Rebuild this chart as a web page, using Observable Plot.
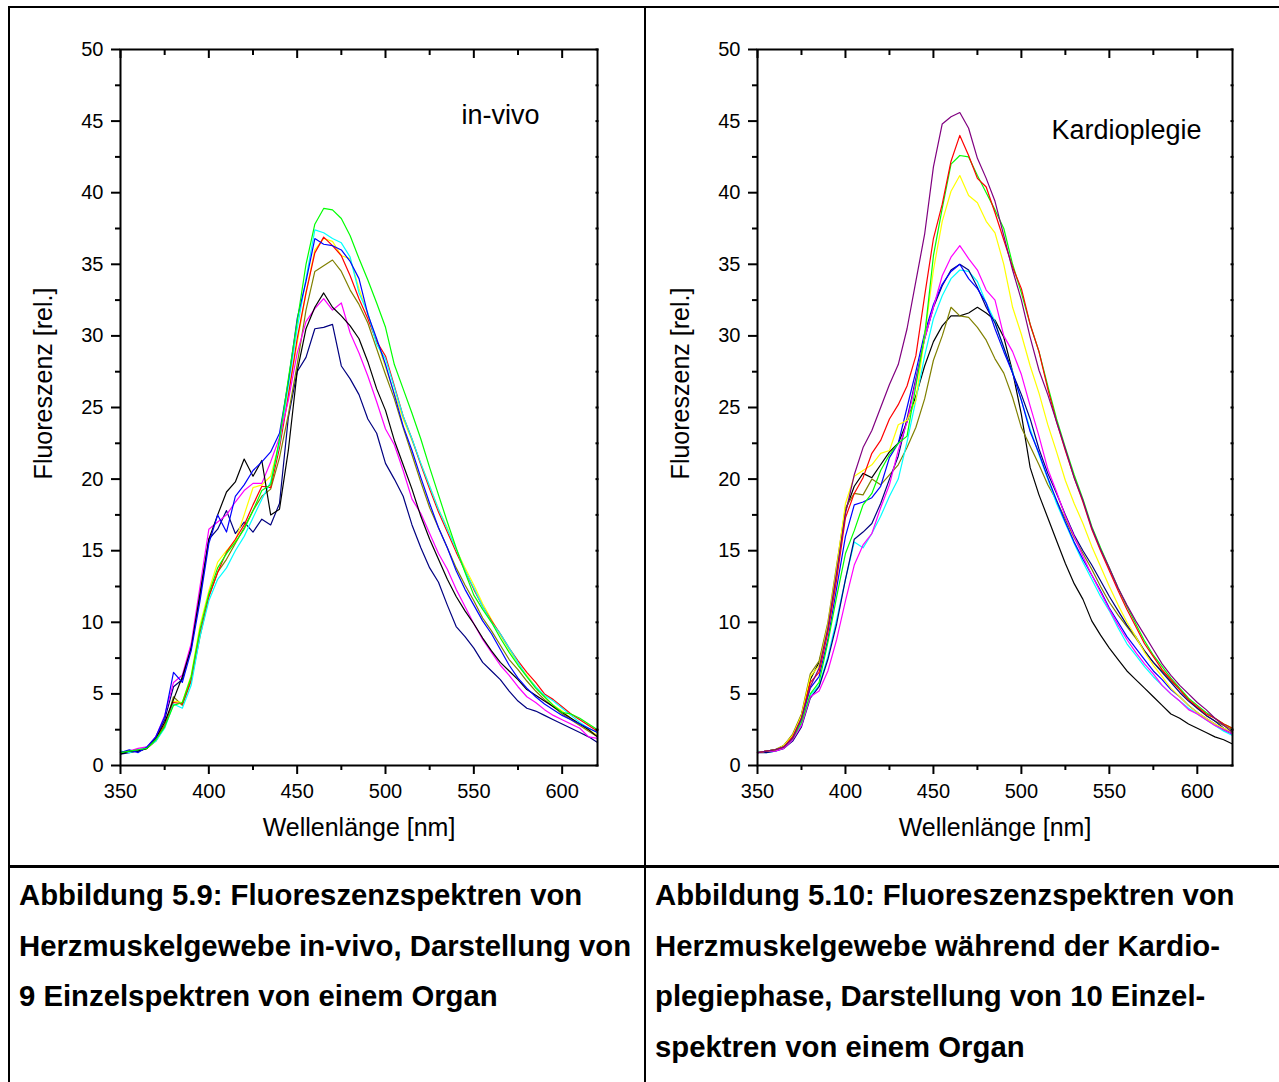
<!DOCTYPE html>
<html>
<head>
<meta charset="utf-8">
<script src="https://cdn.jsdelivr.net/npm/d3@7"></script>
<script src="https://cdn.jsdelivr.net/npm/@observablehq/plot@0.6"></script>
<style>
  html, body { margin: 0; padding: 0; background: #fff; }
  body { width: 1279px; height: 1082px; overflow: hidden; position: relative;
         font-family: "Liberation Sans", Arial, Helvetica, sans-serif; color: #000; }
  .rule { position: absolute; background: #000; }
  .plot { position: absolute; top: 20px; }
  .cap { position: absolute; top: 870px; font-weight: bold; font-size: 29.3px;
         line-height: 50.5px; white-space: nowrap; }
</style>
</head>
<body>
<div class="rule" style="left:8px; top:6px; width:1271px; height:2px;"></div>
<div class="rule" style="left:8px; top:6px; width:2px; height:1076px;"></div>
<div class="rule" style="left:644px; top:6px; width:2px; height:1076px;"></div>
<div class="rule" style="left:8px; top:865px; width:1271px; height:3px;"></div>
<div id="left" class="plot" style="left:20px;"></div>
<div id="right" class="plot" style="left:657px;"></div>
<div class="cap" style="left:19px;">Abbildung 5.9: Fluoreszenzspektren von<br>Herzmuskelgewebe in-vivo, Darstellung von<br>9 Einzelspektren von einem Organ</div>
<div class="cap" style="left:655px;">Abbildung 5.10: Fluoreszenzspektren von<br>Herzmuskelgewebe während der Kardio-<br>plegiephase, Darstellung von 10 Einzel-<br>spektren von einem Organ</div>
<script>
// ---------- data ----------
const wavelengths = [350,355,360,365,370,375,380,385,390,395,
  400,405,410,415,420,425,430,435,440,445,
  450,455,460,465,470,475,480,485,490,495,
  500,505,510,515,520,525,530,535,540,545,
  550,555,560,565,570,575,580,585,590,595,
  600,605,610,615,620];

const xMajorTicks = [350,400,450,500,550,600];
const xMinorTicks = [375,425,475,525,575];
const yMajorTicks = [0,5,10,15,20,25,30,35,40,45,50];
const yMinorTicks = [2.5,7.5,12.5,17.5,22.5,27.5,32.5,37.5,42.5,47.5];

// in-vivo spectra (Abbildung 5.9)
const vivoBlack = [0.8,1.0,1.0,1.2,1.9,3.0,4.6,6.2,8.2,12.0,
  15.8,17.5,19.1,19.8,21.4,20.2,21.3,17.5,17.9,22.0,
  27.5,30.5,32.0,33.0,32.0,31.4,30.7,29.8,28.2,26.3,
  24.8,22.7,21.0,19.3,17.4,15.8,14.4,13.0,11.8,10.8,
  9.9,8.9,8.0,7.2,6.6,6.0,5.3,4.9,4.5,4.1,
  3.7,3.3,2.9,2.5,2.0];
const vivoBlue = [0.9,1.1,0.9,1.3,2.0,3.4,6.5,5.8,8.0,11.5,
  15.5,17.5,16.3,18.8,19.6,20.6,21.2,21.9,23.2,26.8,
  31.2,33.8,36.8,36.4,36.3,36.0,35.2,34.0,31.5,29.8,
  28.0,25.9,23.7,22.0,20.1,18.3,16.6,15.2,13.6,12.3,
  11.2,10.1,9.2,8.1,7.0,6.1,5.4,4.8,4.3,3.9,
  3.5,3.2,2.9,2.6,2.3];
const vivoMagenta = [0.9,1.0,1.2,1.3,2.0,3.5,5.8,6.3,8.5,12.5,
  16.5,17.0,17.5,18.4,19.2,19.7,19.7,21.2,22.9,25.5,
  28.8,31.0,31.9,32.6,31.8,32.3,30.2,28.8,27.2,25.4,
  23.5,22.4,20.6,18.6,17.6,16.2,14.8,13.7,12.3,11.1,
  9.9,8.8,7.9,7.0,6.3,5.5,4.8,4.4,3.9,3.5,
  3.2,2.9,2.6,2.0,1.9];
const vivoNavy = [0.8,0.9,1.0,1.2,2.0,3.2,5.5,6.0,8.3,11.8,
  15.8,16.5,17.8,16.2,17.0,16.3,17.2,16.8,18.3,24.3,
  27.5,28.5,30.5,30.6,30.8,27.9,27.0,25.9,24.2,23.2,
  21.1,20.0,18.8,16.8,15.2,13.8,12.8,11.2,9.7,9.0,
  8.2,7.2,6.6,6.0,5.2,4.5,4.0,3.8,3.5,3.2,
  2.9,2.6,2.3,2.0,1.6];
const vivoGreen = [0.9,1.0,1.1,1.2,1.8,2.7,4.2,4.4,6.2,9.5,
  12.0,13.8,14.8,15.6,16.5,17.8,19.2,19.6,22.8,27.0,
  31.0,35.0,37.8,38.9,38.8,38.2,37.0,35.4,33.9,32.3,
  30.6,28.0,26.3,24.6,22.8,20.8,18.9,17.0,15.2,13.5,
  11.9,10.9,10.0,8.9,7.9,7.0,6.2,5.4,4.8,4.2,
  3.7,3.6,3.3,2.9,2.5];
const vivoCyan = [1.0,0.9,1.1,1.3,1.7,2.6,4.3,4.0,5.6,9.0,
  11.5,13.0,13.8,15.0,16.0,17.3,18.6,19.8,22.5,26.5,
  30.5,34.0,37.4,37.2,36.8,36.5,35.5,33.0,31.6,29.4,
  28.4,26.4,24.4,22.8,21.1,19.5,17.9,16.5,15.1,13.6,
  12.4,11.1,10.0,9.2,8.2,7.2,6.2,5.5,4.9,4.5,
  4.0,3.5,3.0,2.6,2.3];
const vivoRed = [0.9,1.0,1.1,1.2,1.8,2.8,4.4,4.3,6.0,9.3,
  11.8,13.5,14.9,15.8,16.8,18.2,19.5,19.4,22.2,25.8,
  29.8,33.0,35.8,36.9,36.3,35.6,34.2,32.6,31.2,29.6,
  28.6,26.5,24.4,22.8,21.0,19.3,17.7,16.3,14.9,13.6,
  12.3,11.1,10.1,9.2,8.2,7.3,6.5,5.8,5.0,4.6,
  4.1,3.6,3.2,2.8,2.4];
const vivoYellow = [0.9,1.0,1.1,1.2,1.8,2.9,4.5,4.4,6.3,9.8,
  12.2,14.2,15.0,15.7,17.5,19.4,19.6,20.2,22.6,26.0,
  29.5,33.0,36.0,36.8,36.6,35.6,35.4,33.3,31.5,29.7,
  27.8,26.0,24.2,22.7,21.1,19.5,17.9,16.6,15.1,13.8,
  12.6,11.3,10.2,9.1,8.1,7.1,6.3,5.5,4.8,4.2,
  3.8,3.3,2.9,2.5,2.1];
const vivoOlive = [0.9,1.0,1.1,1.2,1.7,2.7,4.8,4.2,5.9,9.0,
  11.8,13.5,14.4,15.5,16.6,17.8,18.8,19.3,21.5,24.5,
  28.0,31.8,34.5,34.9,35.3,34.5,33.2,32.2,30.9,29.1,
  27.3,25.6,23.6,21.7,19.8,18.0,16.6,15.2,13.8,12.6,
  11.5,10.3,9.4,8.4,7.4,6.7,5.9,5.2,4.6,4.1,
  3.6,3.2,2.8,2.4,2.0];

// Kardioplegie spectra (Abbildung 5.10)
const kardioBlack = [0.9,1.0,1.1,1.4,2.1,3.5,6.0,7.2,9.6,13.6,
  17.8,19.5,20.4,20.1,21.0,21.9,22.5,24.0,25.8,27.9,
  29.6,30.7,31.4,31.4,31.6,32.0,31.6,31.1,29.9,27.5,
  24.5,20.8,18.9,17.3,15.7,14.1,12.7,11.6,10.1,9.1,
  8.2,7.4,6.6,6.0,5.4,4.8,4.2,3.6,3.3,2.9,
  2.6,2.3,2.0,1.8,1.5];
const kardioRed = [0.9,1.0,1.1,1.3,2.0,3.3,5.8,6.5,9.3,13.0,
  17.3,19.0,20.1,21.8,22.7,24.2,25.2,26.5,28.6,32.8,
  36.8,39.2,42.2,44.0,42.6,41.0,40.4,38.6,36.7,34.8,
  33.3,30.8,28.9,26.3,24.0,22.0,20.1,18.4,16.5,15.0,
  13.6,12.2,10.9,9.7,8.5,7.6,6.7,6.0,5.3,4.6,
  4.1,3.6,3.3,2.9,2.6];
const kardioGreen = [0.9,1.0,1.1,1.3,1.9,3.0,5.0,5.8,8.6,11.8,
  14.8,16.4,18.2,19.0,20.6,21.7,22.5,23.0,26.5,30.0,
  35.6,38.9,42.0,42.6,42.5,41.2,40.0,38.8,37.5,35.0,
  33.0,30.8,28.9,26.5,24.2,22.2,20.3,18.6,16.7,15.2,
  13.8,12.4,11.1,9.9,8.7,7.7,6.9,6.1,5.4,4.7,
  4.2,3.7,3.3,2.9,2.6];
const kardioBlue = [0.9,1.0,1.1,1.3,2.0,3.2,5.4,6.2,8.8,12.4,
  16.0,18.2,18.4,18.7,19.5,21.5,22.5,25.0,27.5,30.2,
  32.2,33.6,34.5,35.0,34.0,33.3,32.3,30.5,28.9,27.4,
  25.5,23.3,21.8,20.1,18.5,17.0,15.6,14.4,13.3,12.2,
  11.0,10.0,9.0,8.2,7.4,6.6,6.0,5.3,4.8,4.2,
  3.7,3.3,2.9,2.5,2.2];
const kardioCyan = [1.0,0.9,1.0,1.2,1.8,2.9,4.9,5.6,7.6,10.2,
  13.0,15.6,15.2,16.2,17.4,18.8,20.0,22.6,25.5,28.6,
  31.2,32.8,34.0,34.6,34.5,33.8,32.3,31.0,29.1,27.5,
  25.5,23.5,21.7,20.0,18.3,16.9,15.5,14.2,13.0,11.8,
  10.8,9.6,8.5,7.7,6.9,6.2,5.6,5.0,4.5,4.0,
  3.6,3.2,2.8,2.4,2.1];
const kardioMagenta = [0.9,1.0,1.0,1.2,1.8,2.8,4.8,5.2,6.6,8.8,
  11.5,14.0,15.4,16.2,18.0,19.6,22.0,24.0,26.8,29.8,
  32.0,34.2,35.5,36.3,35.4,34.6,33.2,32.5,30.0,28.9,
  27.3,25.1,23.0,20.7,19.1,17.4,16.0,14.6,13.3,12.1,
  10.9,9.8,8.8,7.9,7.1,6.4,5.6,5.0,4.5,3.9,
  3.6,3.2,2.8,2.5,2.2];
const kardioNavy = [0.9,0.9,1.0,1.2,1.7,2.7,4.7,5.5,7.4,9.9,
  13.0,15.8,16.3,16.9,18.3,20.0,21.6,24.2,27.0,29.8,
  32.0,33.5,34.6,35.0,34.6,33.4,32.0,30.9,29.2,27.4,
  25.9,24.2,22.1,20.4,19.0,17.5,16.1,15.0,14.0,12.9,
  11.8,10.8,9.8,9.0,8.0,7.2,6.5,5.8,5.1,4.5,
  4.0,3.5,3.1,2.6,2.2];
const kardioYellow = [0.9,1.0,1.1,1.4,2.1,3.5,6.2,7.0,9.8,13.8,
  18.3,20.2,20.6,21.0,21.8,22.0,23.8,24.1,25.5,30.0,
  34.6,38.0,40.1,41.2,39.8,39.3,38.0,37.2,35.0,32.0,
  30.1,27.9,26.0,23.8,21.9,19.9,18.3,16.9,15.3,13.9,
  12.5,11.2,10.0,9.0,7.9,7.0,6.2,5.4,4.8,4.2,
  3.7,3.3,2.9,2.6,2.3];
const kardioOlive = [0.9,1.0,1.1,1.4,2.2,3.6,6.4,7.3,10.0,14.0,
  18.0,19.0,18.9,20.0,19.6,20.3,21.0,22.2,23.6,25.6,
  28.3,30.0,32.0,31.4,31.3,30.6,29.7,28.4,27.4,25.7,
  23.6,22.3,21.0,19.6,18.5,17.2,15.9,14.8,13.7,12.5,
  11.4,10.5,9.7,8.9,8.0,7.2,6.6,5.9,5.3,4.6,
  4.0,3.5,3.1,2.8,2.5];
const kardioPurple = [0.9,1.0,1.1,1.3,1.9,3.3,5.5,6.8,9.6,13.5,
  17.6,20.3,22.2,23.4,25.0,26.6,28.0,30.5,33.8,37.1,
  41.8,44.8,45.3,45.6,44.5,42.4,41.0,39.4,37.0,34.6,
  32.5,29.9,27.6,25.9,24.0,22.1,20.1,18.5,16.6,15.1,
  13.8,12.4,11.2,10.1,9.1,8.1,7.1,6.3,5.6,5.0,
  4.4,3.9,3.3,2.8,2.3];

const vivoSeries = [
  {color: "#000080", values: vivoNavy},
  {color: "#808000", values: vivoOlive},
  {color: "#FFFF00", values: vivoYellow},
  {color: "#FF0000", values: vivoRed},
  {color: "#00FFFF", values: vivoCyan},
  {color: "#FF00FF", values: vivoMagenta},
  {color: "#000000", values: vivoBlack},
  {color: "#0000FF", values: vivoBlue},
  {color: "#00FF00", values: vivoGreen}
];
const kardioSeries = [
  {color: "#000000", values: kardioBlack},
  {color: "#808000", values: kardioOlive},
  {color: "#00FFFF", values: kardioCyan},
  {color: "#000080", values: kardioNavy},
  {color: "#0000FF", values: kardioBlue},
  {color: "#FF00FF", values: kardioMagenta},
  {color: "#FFFF00", values: kardioYellow},
  {color: "#00FF00", values: kardioGreen},
  {color: "#FF0000", values: kardioRed},
  {color: "#800080", values: kardioPurple}
];

// ---------- drawing ----------
const FONT = '"Liberation Sans", Arial, Helvetica, sans-serif';

function panel(series, tag, tagDx, tagDy, marginRight) {
  const W = 600, H = 840, mL = 100, mT = 29, mB = 95;
  const fw = W - mL - marginRight;   // frame width
  const fh = H - mT - mB;            // frame height
  return Plot.plot({
    width: W, height: H,
    marginLeft: mL, marginRight: marginRight, marginTop: mT, marginBottom: mB,
    x: {domain: [350, 620]},
    y: {domain: [0, 50]},
    style: {fontFamily: FONT, fontSize: "20px", color: "#000", background: "transparent", overflow: "visible"},
    marks: [
      ...series.map(s => Plot.line(wavelengths, {x: d => d, y: (d, i) => s.values[i], stroke: s.color, strokeWidth: 1.2})),
      Plot.frame({stroke: "#000", strokeWidth: 2}),
      Plot.axisX({anchor: "bottom", ticks: xMajorTicks, tickSize: 9, tickPadding: 9, strokeWidth: 2, label: null, fontSize: 20, tickFormat: d => String(d)}),
      Plot.axisX({anchor: "bottom", ticks: xMinorTicks, tickSize: 5, strokeWidth: 2, label: null, tickFormat: () => ""}),
      Plot.axisY({anchor: "left", ticks: yMajorTicks, tickSize: 9, tickPadding: 8, strokeWidth: 2, label: null, fontSize: 20, tickFormat: d => String(d)}),
      Plot.axisY({anchor: "left", ticks: yMinorTicks, tickSize: 5, strokeWidth: 2, label: null, tickFormat: () => ""}),
      // inward ticks on the top edge
      Plot.ruleX(xMajorTicks, {x: d => d, insetBottom: fh - 9, stroke: "#000", strokeWidth: 2}),
      Plot.ruleX(xMinorTicks, {x: d => d, insetBottom: fh - 6, stroke: "#000", strokeWidth: 2}),
      // small crossing ticks on the right edge
      Plot.ruleY(yMajorTicks.concat(yMinorTicks), {y: d => d, insetLeft: fw - 3, dx: 1.5, stroke: "#000", strokeWidth: 2}),
      Plot.text(["Wellenlänge [nm]"], {frameAnchor: "bottom", dy: 70, fontSize: 25, textAnchor: "middle", fill: "#000"}),
      Plot.text(["Fluoreszenz [rel.]"], {frameAnchor: "left", dx: -77, dy: -24, rotate: -90, fontSize: 25, textAnchor: "middle", fill: "#000"}),
      Plot.text([tag], {frameAnchor: "top-right", dx: tagDx, dy: tagDy, textAnchor: "end", fontSize: 27, fill: "#000"})
    ]
  });
}

document.getElementById("left").append(panel(vivoSeries, "in-vivo", -58, 55, 23));
document.getElementById("right").append(panel(kardioSeries, "Kardioplegie", -31, 70, 25));
</script>
</body>
</html>
